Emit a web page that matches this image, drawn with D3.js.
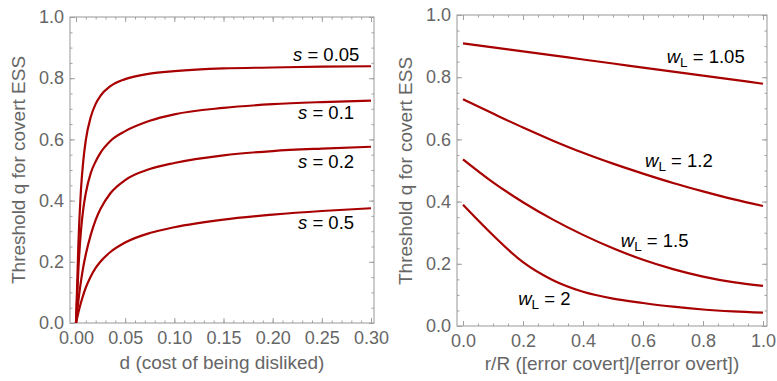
<!DOCTYPE html>
<html>
<head>
<meta charset="utf-8">
<script src="https://cdn.jsdelivr.net/npm/d3@7"></script>
<style>
  body { margin: 0; background: #fff; }
  text { font-family: "Liberation Sans", Arial, Helvetica, sans-serif; }
</style>
</head>
<body>
<div id="chart"></div>
<script>
// left panel: threshold q against d, one curve per s
var dValues = [0, 0.0025, 0.005, 0.0075, 0.01, 0.015, 0.02, 0.025, 0.035, 0.05, 0.075, 0.1, 0.15, 0.2, 0.25, 0.3];
var qS005 = [0, 0.265, 0.433, 0.533, 0.598, 0.673, 0.716, 0.743, 0.774, 0.797, 0.815, 0.823, 0.832, 0.835, 0.838, 0.839];
var qS01  = [0, 0.18, 0.30, 0.375, 0.425, 0.49, 0.528, 0.557, 0.595, 0.627, 0.661, 0.682, 0.703, 0.715, 0.722, 0.727];
var qS02  = [0, 0.075, 0.135, 0.185, 0.225, 0.288, 0.337, 0.373, 0.424, 0.467, 0.503, 0.523, 0.548, 0.562, 0.570, 0.576];
var qS05  = [0, 0.035, 0.066, 0.093, 0.116, 0.152, 0.18, 0.201, 0.232, 0.263, 0.294, 0.313, 0.338, 0.354, 0.366, 0.375];
var sLabels = ["0.05", "0.1", "0.2", "0.5"];
// where the s labels sit (data coords)
var sLabelD = [0.2207, 0.2258, 0.2258, 0.2258];
var sLabelQ = [0.857, 0.666, 0.506, 0.307];

// right panel: threshold q against r/R, one curve per wL
var rValues = [0, 0.1, 0.2, 0.3, 0.4, 0.5, 0.6, 0.7, 0.8, 0.9, 1.0];
var qW105 = [0.909, 0.896, 0.883, 0.870, 0.857, 0.844, 0.831, 0.818, 0.805, 0.792, 0.779];
var qW12  = [0.729, 0.683, 0.638, 0.596, 0.557, 0.522, 0.49, 0.46, 0.433, 0.408, 0.386];
var qW15  = [0.536, 0.462, 0.398, 0.342, 0.293, 0.25, 0.213, 0.183, 0.159, 0.141, 0.129];
var qW2   = [0.39, 0.292, 0.205, 0.147, 0.11, 0.088, 0.074, 0.062, 0.053, 0.047, 0.043];
var wLabels = ["1.05", "1.2", "1.5", "2"];
var wLabelR = [0.679, 0.607, 0.526, 0.184];
var wLabelQ = [0.845, 0.512, 0.255, 0.067];

// ticks
var dMajor = [0, 0.05, 0.1, 0.15, 0.2, 0.25, 0.3];
var dMinor = d3.range(0, 31).map(function(i) { return i / 100; });
var rMajor = [0, 0.2, 0.4, 0.6, 0.8, 1.0];
var rMinor = d3.range(0, 21).map(function(i) { return i / 20; });
var qMajor = [0, 0.2, 0.4, 0.6, 0.8, 1.0];
var qMinor = d3.range(0, 21).map(function(i) { return i / 20; });

function init() {
    var w = 777, h = 381;
    var red = "#a80000";
    var frameColor = "#a0a0a0";
    var labelColor = "#666";

    var svg = d3.select("#chart")
        .append("svg")
        .attr("width", w)
        .attr("height", h);

    // frame with inward ticks on all four sides
    function frame(x, y, box, xMaj, xMin, yMaj, yMin, fmtX) {
        var g = svg.append("g");
        g.append("rect")
            .attr("x", box[0]).attr("y", box[1])
            .attr("width", box[2] - box[0]).attr("height", box[3] - box[1])
            .attr("fill", "none")
            .attr("stroke", frameColor)
            .attr("stroke-width", 1.1);

        function ax(axis, tx, ty, vals, size, fmt, pad) {
            var a = axis.tickValues(vals).tickSize(-size).tickSizeOuter(0).tickPadding(pad || 6)
                .tickFormat(fmt || "");
            var gg = g.append("g")
                .attr("transform", "translate(" + tx + "," + ty + ")")
                .call(a);
            gg.select(".domain").remove();
            gg.selectAll("line").attr("stroke", frameColor);
            gg.selectAll("text")
                .attr("fill", labelColor)
                .style("font-size", "18px")
                .style("font-family", '"Liberation Sans", Arial, sans-serif');
        }
        ax(d3.axisBottom(x), 0, box[3], xMin, 2.5);
        ax(d3.axisBottom(x), 0, box[3], xMaj, 5, fmtX, 8.5);
        ax(d3.axisTop(x), 0, box[1], xMin, 2.5);
        ax(d3.axisTop(x), 0, box[1], xMaj, 5);
        ax(d3.axisLeft(y), box[0], 0, yMin, 2.5);
        ax(d3.axisLeft(y), box[0], 0, yMaj, 5, d3.format(".1f"));
        ax(d3.axisRight(y), box[2], 0, yMin, 2.5);
        ax(d3.axisRight(y), box[2], 0, yMaj, 5);
        return g;
    }

    function title(x, y, txt, rot) {
        svg.append("text")
            .attr("transform", "translate(" + x + "," + y + ")" + (rot ? " rotate(-90)" : ""))
            .attr("text-anchor", "middle")
            .attr("fill", labelColor)
            .style("font-size", "19px")
            .text(txt);
    }

    // ---- left panel ----
    var xL = d3.scaleLinear().domain([0, 0.3]).range([76, 371]);
    var yL = d3.scaleLinear().domain([0, 1]).range([323, 17]);
    frame(xL, yL, [70, 17, 374, 323], dMajor, dMinor, qMajor, qMinor, d3.format(".2f"));

    var lineL = d3.line()
        .x(function(d) { return xL(d[0]); })
        .y(function(d) { return yL(d[1]); })
        .curve(d3.curveMonotoneX);

    var leftSeries = [qS005, qS01, qS02, qS05];
    svg.append("g").selectAll("path")
        .data(leftSeries)
        .enter()
        .append("path")
        .attr("d", function(s) { return lineL(dValues.map(function(d, i) { return [d, s[i]]; })); })
        .attr("fill", "none")
        .attr("stroke", red)
        .attr("stroke-width", 2.2);

    var sl = svg.append("g").selectAll("text")
        .data(sLabels)
        .enter()
        .append("text")
        .attr("x", function(d, i) { return xL(sLabelD[i]); })
        .attr("y", function(d, i) { return yL(sLabelQ[i]); })
        .attr("fill", "#000")
        .style("font-size", "18.5px");
    sl.append("tspan").style("font-style", "italic").text("s");
    sl.append("tspan").text(function(d) { return " = " + d; });

    title(222, 369, "d (cost of being disliked)");
    title(25, 170, "Threshold q for covert ESS", true);

    // ---- right panel ----
    var xR = d3.scaleLinear().domain([0, 1]).range([463, 763]);
    var yR = d3.scaleLinear().domain([0, 1]).range([326, 15]);
    frame(xR, yR, [457, 15, 767, 326], rMajor, rMinor, qMajor, qMinor, d3.format(".1f"));

    var lineR = d3.line()
        .x(function(d) { return xR(d[0]); })
        .y(function(d) { return yR(d[1]); })
        .curve(d3.curveMonotoneX);

    var rightSeries = [qW105, qW12, qW15, qW2];
    svg.append("g").selectAll("path")
        .data(rightSeries)
        .enter()
        .append("path")
        .attr("d", function(s) { return lineR(rValues.map(function(r, i) { return [r, s[i]]; })); })
        .attr("fill", "none")
        .attr("stroke", red)
        .attr("stroke-width", 2.2);

    var wl = svg.append("g").selectAll("text")
        .data(wLabels)
        .enter()
        .append("text")
        .attr("x", function(d, i) { return xR(wLabelR[i]); })
        .attr("y", function(d, i) { return yR(wLabelQ[i]); })
        .attr("fill", "#000")
        .style("font-size", "18.5px");
    wl.append("tspan").style("font-style", "italic").text("w");
    wl.append("tspan").style("font-size", "13.5px").attr("dy", 4).text("L");
    wl.append("tspan").attr("dy", -4).text(function(d) { return " = " + d; });

    title(612, 370, "r/R ([error covert]/[error overt])");
    title(412, 171, "Threshold q for covert ESS", true);
}
window.onload = init;
</script>
</body>
</html>
